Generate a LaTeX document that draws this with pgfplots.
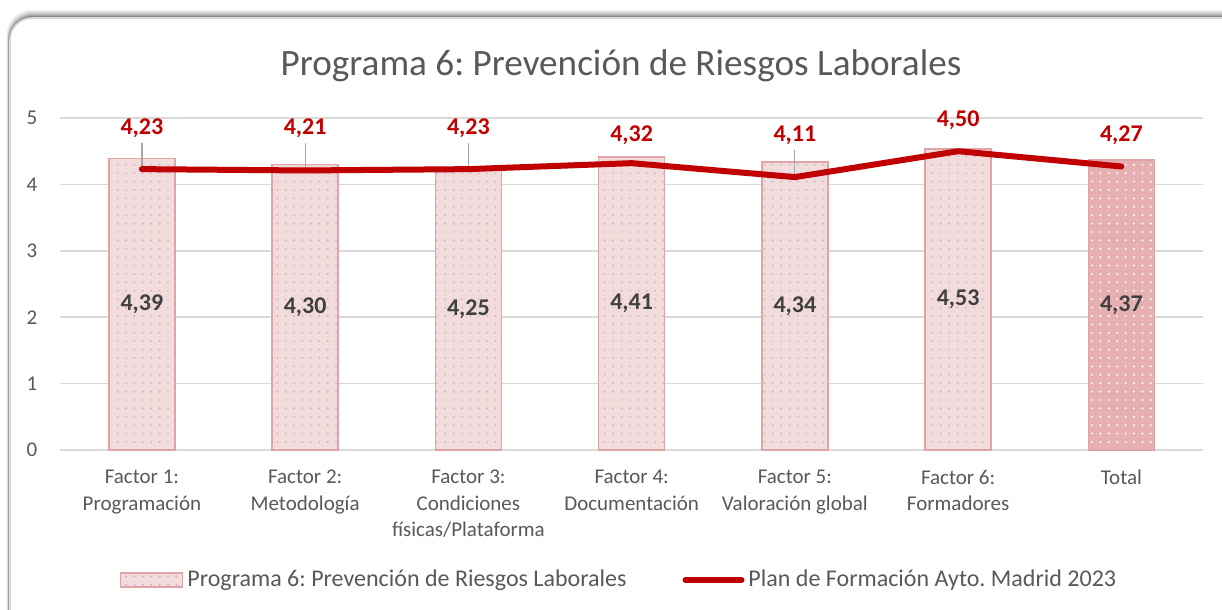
\documentclass[border=0pt]{standalone}
\usepackage{pgfplots}
\pgfplotsset{compat=1.18}
\usepackage{fontspec}
\setmainfont{Carlito}
\usetikzlibrary{patterns.meta}
\definecolor{barfill}{HTML}{F2DCDB}
\definecolor{barborder}{HTML}{E0A3A6}
\definecolor{dotc}{HTML}{C4AACB}
\definecolor{totfill}{HTML}{E6B0B3}
\definecolor{linec}{HTML}{C00000}
\definecolor{txt}{HTML}{595959}
\definecolor{lbl}{HTML}{404040}
\definecolor{gridc}{HTML}{D9D9D9}
\frenchspacing
\begin{document}
\begin{tikzpicture}
\clip (0,0) rectangle (611pt,305pt);
\fill[white] (0,0) rectangle (611pt,305pt);
% shadow
\foreach \o/\c in {3.6/6,3.0/10,2.4/16,1.8/24,1.2/34,0.6/46}{
  \draw[line width=1pt, black!\c, rounded corners=12pt] (5pt-\o pt*0.3,-30pt) -- (5pt-\o pt*0.3,296pt+\o pt) -- (660pt,296pt+\o pt);
}
\filldraw[fill=white, draw=gridc, line width=0.8pt, rounded corners=11pt] (5pt,-30pt) rectangle (660pt,296pt);
\node[font=\fontsize{18.6}{22}\selectfont, text=txt] at (310.5pt,272pt) {Programa 6: Prevención de Riesgos Laborales};
\begin{axis}[
  at={(30.15pt,80pt)}, anchor=south west,
  scale only axis, width=571.35pt, height=166pt,
  xmin=-0.5, xmax=6.5, ymin=0, ymax=5,
  ytick={0,1,2,3,4,5},
  xtick={0,1,2,3,4,5,6},
  /pgf/number format/assume math mode=true,
  xticklabels={{Factor 1:\\Programación},{Factor 2:\\Metodología},{Factor 3:\\Condiciones\\físicas/Plataforma},{Factor 4:\\Documentación},{Factor 5:\\Valoración global},{Factor 6:\\Formadores},{Total}},
  xticklabel style={align=center, font=\fontsize{10.5}{13.25}\selectfont, text=txt, yshift=-6.5pt},
  yticklabel style={font=\fontsize{10.5}{12}\selectfont, text=txt, xshift=-8pt},
  major tick length=0pt,
  ymajorgrids, grid style={gridc, line width=0.8pt},
  axis line style={draw=none},
  clip=false,
  legend columns=2,
  legend style={at={(0.4898,-0.3916)}, anchor=center, draw=none, fill=none,
    font=\fontsize{12}{14}\selectfont, text=txt,
    /tikz/every even column/.append style={column sep=26pt}},
]
\addplot[ybar, bar width=33pt, bar shift=0pt, fill=barfill, draw=barborder, line width=0.8pt,
  postaction={pattern={Dots[distance=4.2pt, radius=0.45pt]}, pattern color=dotc},
  legend image code/.code={\draw[fill=barfill, draw=barborder, line width=0.8pt, postaction={pattern={Dots[distance=4.2pt, radius=0.45pt]}, pattern color=dotc}] (0pt,-3.5pt) rectangle (31pt,3.5pt);}]
  coordinates {(0,4.39) (1,4.30) (2,4.25) (3,4.41) (4,4.34) (5,4.53)};
\addlegendentry{Programa 6: Prevención de Riesgos Laborales}
\addplot[ybar, bar width=33pt, bar shift=0pt, fill=totfill, draw=barborder, line width=0.8pt,
  postaction={pattern={Dots[distance=4.2pt, radius=0.55pt]}, pattern color=white}, forget plot]
  coordinates {(6,4.37)};
\draw[gray!70, line width=0.6pt] (axis cs:0,4.63) -- (axis cs:0,4.23);
\draw[gray!70, line width=0.6pt] (axis cs:1,4.63) -- (axis cs:1,4.21);
\draw[gray!70, line width=0.6pt] (axis cs:2,4.63) -- (axis cs:2,4.23);
\draw[gray!70, line width=0.6pt] (axis cs:4,4.52) -- (axis cs:4,4.11);
\addplot[color=linec, line width=3pt, line cap=round, line join=round, mark=none,
  legend image code/.code={\draw[linec, line width=3pt, line cap=round] (0pt,0pt) -- (28pt,0pt);}]
  coordinates {(0,4.23) (1,4.21) (2,4.23) (3,4.32) (4,4.11) (5,4.50) (6,4.27)};
\addlegendentry{Plan de Formación Ayto. Madrid 2023}
\begin{scope}[every node/.style={font=\bfseries\fontsize{12}{14}\selectfont, text=linec}]
\node at (axis cs:0,4.85) {4,23};
\node at (axis cs:1,4.85) {4,21};
\node at (axis cs:2,4.85) {4,23};
\node at (axis cs:3,4.74) {4,32};
\node at (axis cs:4,4.74) {4,11};
\node at (axis cs:5,4.97) {4,50};
\node at (axis cs:6,4.74) {4,27};
\end{scope}
\begin{scope}[every node/.style={font=\bfseries\fontsize{12}{14}\selectfont, text=lbl}]
\node at (axis cs:0,2.195) {4,39};
\node at (axis cs:1,2.15) {4,30};
\node at (axis cs:2,2.125) {4,25};
\node at (axis cs:3,2.205) {4,41};
\node at (axis cs:4,2.17) {4,34};
\node at (axis cs:5,2.265) {4,53};
\node at (axis cs:6,2.185) {4,37};
\end{scope}
\end{axis}
\end{tikzpicture}
\end{document}
